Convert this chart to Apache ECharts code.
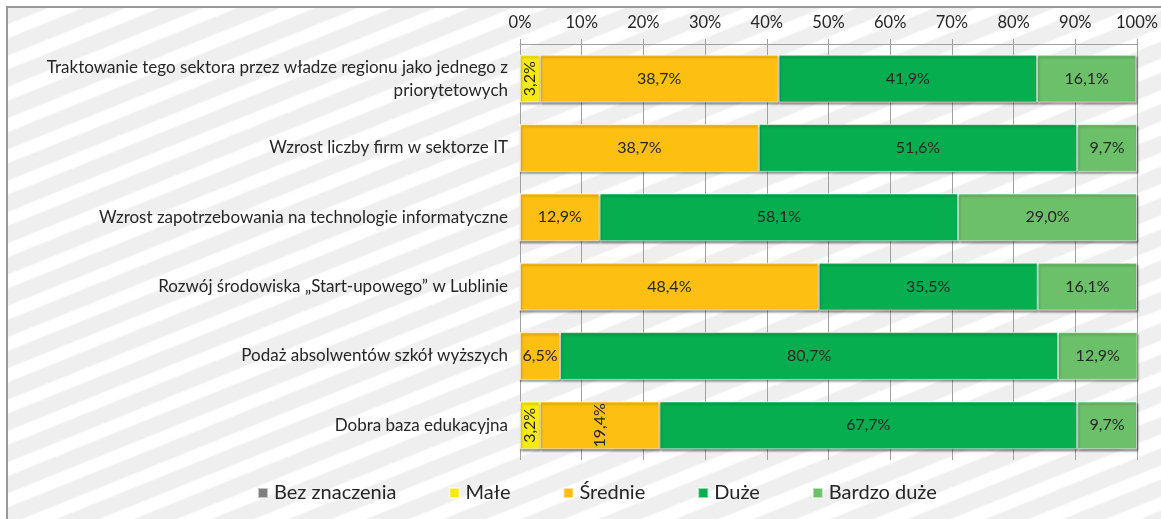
<!DOCTYPE html>
<html>
<head>
<meta charset="utf-8">
<script src="https://cdn.jsdelivr.net/npm/echarts@6/dist/echarts.min.js"></script>
<style>
  html, body { margin: 0; padding: 0; background: #fff; width: 1161px; height: 519px; overflow: hidden; }
  #frame {
    position: absolute; left: 6px; top: 6px; width: 1170px; height: 530px;
    border-left: 2px solid #9a9a9a; border-top: 2px solid #9a9a9a;
    background: repeating-linear-gradient(158deg, #efefef 0px, #efefef 14px, #ffffff 16px, #ffffff 27px, #efefef 29px);
  }
  #chart { position: absolute; left: 0; top: 0; width: 1161px; height: 519px; }
</style>
</head>
<body>
<div id="frame"></div>
<div id="chart"></div>
<script>
const categories = [
  'Traktowanie tego sektora przez władze regionu jako jednego z\npriorytetowych',
  'Wzrost liczby firm w sektorze IT',
  'Wzrost zapotrzebowania na technologie informatyczne',
  'Rozwój środowiska „Start-upowego” w Lublinie',
  'Podaż absolwentów szkół wyższych',
  'Dobra baza edukacyjna'
];
const seriesNames = ['Bez znaczenia', 'Małe', 'Średnie', 'Duże', 'Bardzo duże'];
const bezZnaczenia = [0, 0, 0, 0, 0, 0];
const male = [3.2, 0, 0, 0, 0, 3.2];
const srednie = [38.7, 38.7, 12.9, 48.4, 6.5, 19.4];
const duze = [41.9, 51.6, 58.1, 35.5, 80.7, 67.7];
const bardzoDuze = [16.1, 9.7, 29.0, 16.1, 12.9, 9.7];
const xTicks = [0, 10, 20, 30, 40, 50, 60, 70, 80, 90, 100];

const colors = ['#7f7f7f', '#f7ea0f', '#fdbf12', '#06ae4f', '#6cc06a'];
const values = [bezZnaczenia, male, srednie, duze, bardzoDuze];
// labels drawn vertically (series index, category index)
const rotated = [[1, 0], [1, 5], [2, 5]];

const FONT = 'Lato';
const fmt = v => v.toFixed(1).replace('.', ',') + '%';

const series = seriesNames.map((name, si) => ({
  name,
  type: 'bar',
  stack: 'total',
  barCategoryGap: '31%',
  itemStyle: {
    color: colors[si],
    borderColor: 'rgba(255,255,255,0.55)',
    borderWidth: 1,
    shadowColor: 'rgba(0,0,0,0.45)',
    shadowBlur: 2,
    shadowOffsetX: 1,
    shadowOffsetY: 2
  },
  label: {
    show: true,
    position: 'inside',
    fontFamily: FONT,
    fontSize: 16,
    color: '#262626',
    formatter: p => (p.value > 0 ? fmt(p.value) : '')
  },
  data: values[si].map((v, ci) => {
    const rot = rotated.some(r => r[0] === si && r[1] === ci);
    return rot ? { value: v, label: { rotate: 90 } } : v;
  })
}));

const chart = echarts.init(document.getElementById('chart'), null, { renderer: 'canvas' });
chart.setOption({
  backgroundColor: 'transparent',
  animation: false,
  textStyle: { fontFamily: FONT },
  grid: { left: 520, right: 24, top: 44, bottom: 59, containLabel: false },
  legend: {
    bottom: 11,
    left: 252,
    icon: 'rect',
    itemWidth: 10,
    itemHeight: 10,
    itemGap: 52,
    textStyle: { fontFamily: FONT, fontSize: 20, color: '#262626', padding: [0, 0, 0, 1] },
    data: seriesNames
  },
  xAxis: {
    type: 'value',
    position: 'top',
    min: 0,
    max: 100,
    interval: 10,
    axisLine: { show: true, lineStyle: { color: '#a0a0a0', width: 1 } },
    axisTick: { show: true, length: 5, inside: false, lineStyle: { color: '#a0a0a0' } },
    splitLine: { show: true, lineStyle: { color: '#a0a0a0', width: 1 } },
    axisLabel: {
      margin: 13,
      fontFamily: FONT,
      fontSize: 16.5,
      color: '#262626',
      formatter: v => xTicks.includes(v) ? v + '%' : ''
    }
  },
  yAxis: {
    type: 'category',
    inverse: true,
    data: categories,
    axisLine: { show: false },
    axisTick: { show: false },
    axisLabel: {
      margin: 12,
      fontFamily: FONT,
      fontSize: 17,
      lineHeight: 23,
      color: '#262626',
      align: 'right'
    }
  },
  series
});
</script>
</body>
</html>
